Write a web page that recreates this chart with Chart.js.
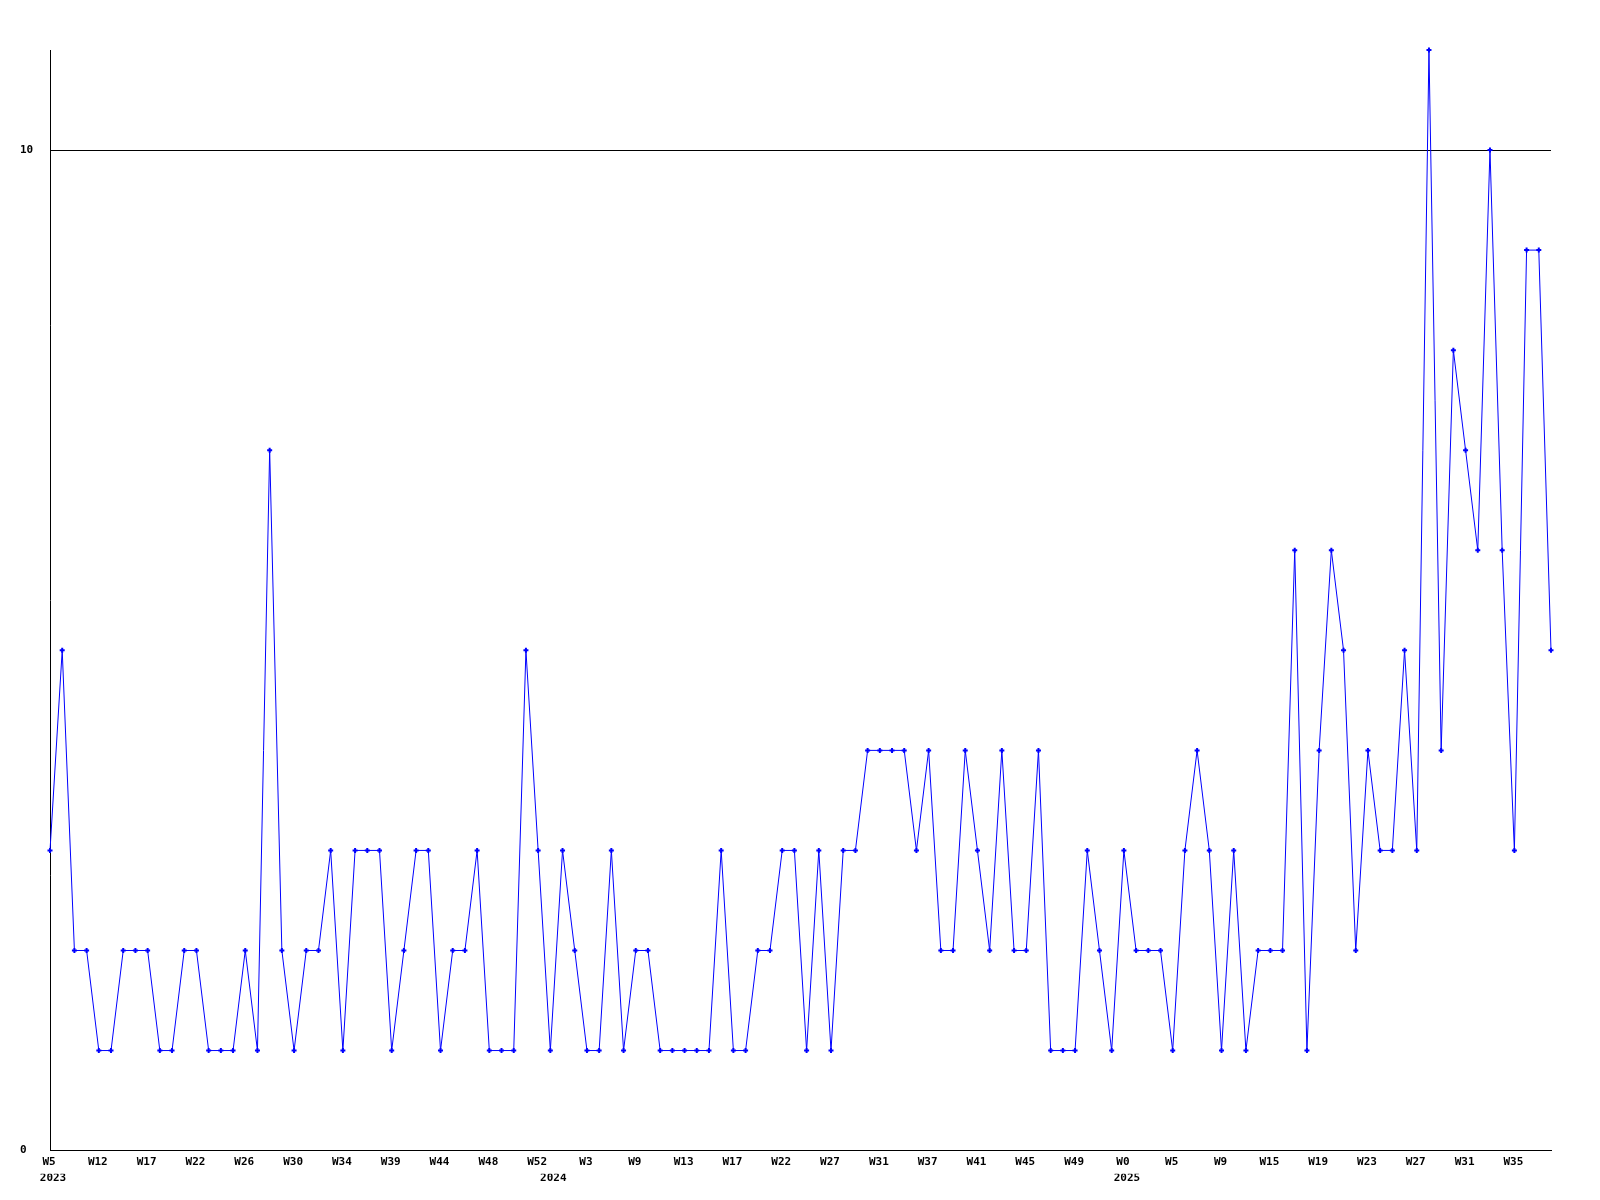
<!DOCTYPE html>
<html>
<head>
<meta charset="utf-8">
<script src="https://cdn.jsdelivr.net/npm/chart.js@4/dist/chart.umd.min.js"></script>
<style>
  html, body { margin: 0; padding: 0; background: #ffffff; }
  #c { display: block; }
</style>
</head>
<body>
<canvas id="c" width="1600" height="1200"></canvas>
<script>
// ---- data ----
const values = [
  3, 5, 2, 2, 1, 1, 2, 2, 2, 1, 1, 2, 2, 1, 1, 1, 2, 1, 7, 2,
  1, 2, 2, 3, 1, 3, 3, 3, 1, 2, 3, 3, 1, 2, 2, 3, 1, 1, 1, 5,
  3, 1, 3, 2, 1, 1, 3, 1, 2, 2, 1, 1, 1, 1, 1, 3, 1, 1, 2, 2,
  3, 3, 1, 3, 1, 3, 3, 4, 4, 4, 4, 3, 4, 2, 2, 4, 3, 2, 4, 2,
  2, 4, 1, 1, 1, 3, 2, 1, 3, 2, 2, 2, 1, 3, 4, 3, 1, 3, 1, 2,
  2, 2, 6, 1, 4, 6, 5, 2, 4, 3, 3, 5, 3, 11, 4, 8, 7, 6, 10, 6,
  3, 9, 9, 5
];
const weekLabels = ['W5','W12','W17','W22','W26','W30','W34','W39','W44','W48','W52',
  'W3','W9','W13','W17','W22','W27','W31','W37','W41','W45','W49',
  'W0','W5','W9','W15','W19','W23','W27','W31','W35'];
const weekLabelStep = 4;            // a week label every 4th point
const yearLabels = ['2023', '2024', '2025'];
const yearStartIndex = [0, 41, 88]; // first point of each year
const yTickValues = [0, 10];
const yMax = 11;

// ---- chart ----
const FONT = { family: "'DejaVu Sans Mono', 'Liberation Mono', monospace", size: 11, weight: 'bold' };
const lastIndex = values.length - 1;

new Chart(document.getElementById('c'), {
  type: 'line',
  data: {
    datasets: [{
      data: values.map((v, i) => ({ x: i, y: v })),
      borderColor: '#0000ff',
      backgroundColor: '#0000ff',
      borderWidth: 1,
      tension: 0,
      fill: false,
      pointStyle: 'cross',
      pointRadius: 2.5,
      pointBorderWidth: 2,
      pointBorderColor: '#0000ff',
      pointHoverRadius: 2.5,
      clip: false
    }]
  },
  options: {
    responsive: false,
    animation: false,
    events: [],
    layout: { padding: { left: 20, right: 49, top: 50, bottom: 17 } },
    plugins: { legend: { display: false }, tooltip: { enabled: false }, title: { display: false } },
    scales: {
      x: {
        type: 'linear',
        position: 'bottom',
        weight: 0,
        min: 0,
        max: lastIndex,
        offset: false,
        grid: { display: false, drawTicks: false },
        border: { display: true, color: '#000000', width: 1 },
        afterBuildTicks: (scale) => {
          scale.ticks = weekLabels.map((_, k) => ({ value: k * weekLabelStep }));
        },
        ticks: {
          autoSkip: false,
          maxRotation: 0,
          minRotation: 0,
          padding: 5,
          labelOffset: -1,
          color: '#000000',
          font: FONT,
          callback: (value) => weekLabels[Math.round(value / weekLabelStep)] ?? ''
        }
      },
      years: {
        type: 'linear',
        position: 'bottom',
        weight: 1,
        min: 0,
        max: lastIndex,
        offset: false,
        grid: { display: false, drawTicks: false },
        border: { display: false },
        afterBuildTicks: (scale) => {
          scale.ticks = yearStartIndex.map(v => ({ value: v }));
        },
        ticks: {
          autoSkip: false,
          maxRotation: 0,
          minRotation: 0,
          padding: -2,
          labelOffset: 3,
          color: '#000000',
          font: FONT,
          callback: (value) => {
            const k = yearStartIndex.indexOf(value);
            return k >= 0 ? yearLabels[k] : '';
          }
        }
      },
      y: {
        type: 'linear',
        position: 'left',
        min: 0,
        max: yMax,
        grid: { display: true, color: '#000000', lineWidth: 1, drawTicks: false },
        border: { display: true, color: '#000000', width: 1 },
        afterBuildTicks: (scale) => {
          scale.ticks = yTickValues.map(v => ({ value: v }));
        },
        afterFit: (scale) => { scale.width = 30; },
        ticks: {
          crossAlign: 'far',
          padding: 0,
          color: '#000000',
          font: FONT,
          callback: (value) => String(value)
        }
      }
    }
  }
});
</script>
</body>
</html>
